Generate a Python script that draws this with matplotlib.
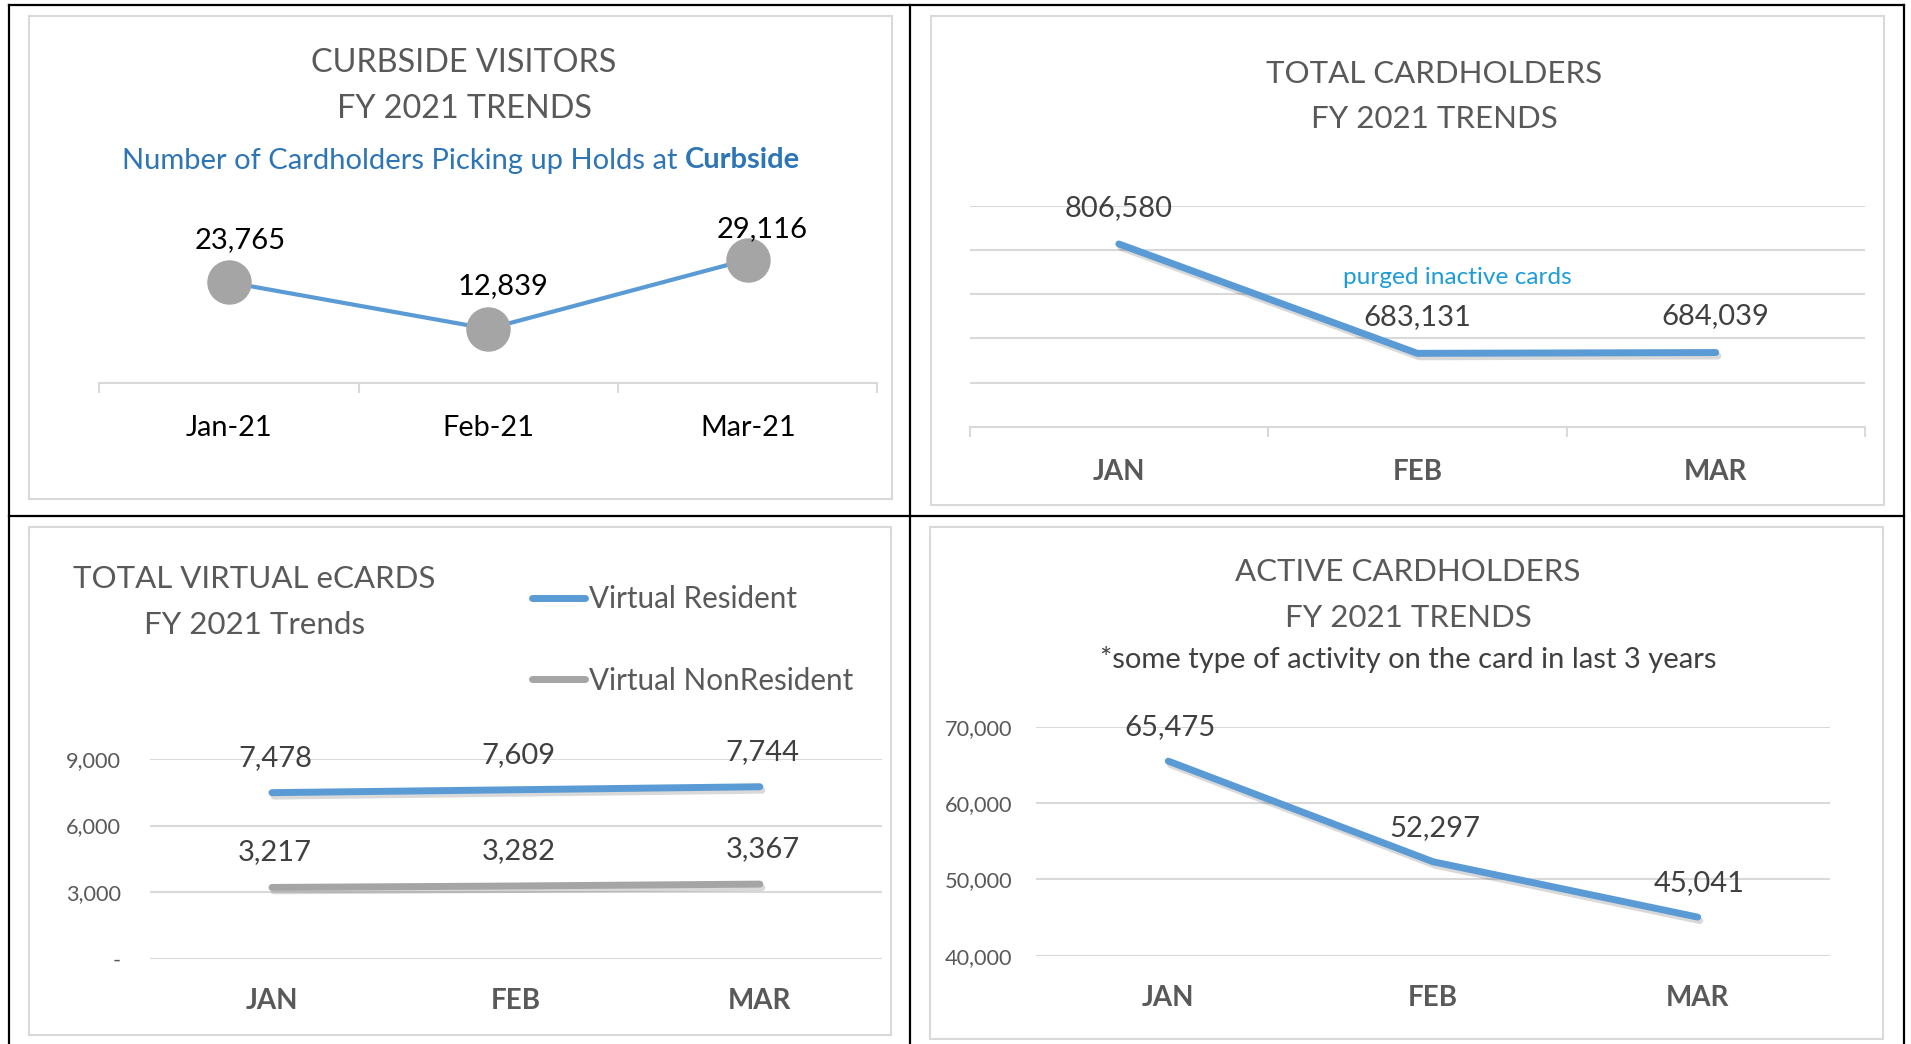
import matplotlib
matplotlib.use("Agg")
import matplotlib.pyplot as plt
import matplotlib.patheffects as pe
from matplotlib.lines import Line2D
from matplotlib.patches import Rectangle

plt.rcParams['font.family'] = ['Lato', 'DejaVu Sans']

# data
curb_months = ["Jan-21", "Feb-21", "Mar-21"]
curb_visitors = [23765, 12839, 29116]

months = ["JAN", "FEB", "MAR"]
total_cardholders = [806580, 683131, 684039]

virtual_resident = [7478, 7609, 7744]
virtual_nonresident = [3217, 3282, 3367]
virtual_ticks = [0, 3000, 6000, 9000]
virtual_ticklabels = ["-", "3,000", "6,000", "9,000"]

active_cardholders = [65475, 52297, 45041]
active_ticks = [40000, 50000, 60000, 70000]

W, H = 1911, 1044
BLUE = "#5B9BD5"
GREY = "#A5A5A5"
TXT = "#595959"
LBL = "#404040"
GRID = "#D9D9D9"

fig = plt.figure(figsize=(W / 100, H / 100), dpi=100)


# pixel box (top-left origin) -> figure fraction
def box(x0, y0, x1, y1):
    return [x0 / W, 1 - y1 / H, (x1 - x0) / W, (y1 - y0) / H]


def ftext(x, y, s, **kw):
    kw.setdefault("ha", "center")
    kw.setdefault("va", "center")
    return fig.text(x / W, 1 - y / H, s, **kw)


def shadow():
    return [pe.SimpleLineShadow(offset=(1.5, -2.5), shadow_color="k", alpha=0.15), pe.Normal()]


def style_axes(ax, bottom_spine=False):
    for s in ax.spines.values():
        s.set_visible(False)
    if bottom_spine:
        ax.spines["bottom"].set_visible(True)
        ax.spines["bottom"].set_color(GRID)
        ax.spines["bottom"].set_linewidth(1.5)
        ax.set_xticks([-0.5, 0.5, 1.5, 2.5], minor=True)
        ax.tick_params(axis="x", which="minor", length=7, width=1.5, color=GRID)
    ax.set_xlim(-0.5, 2.5)
    ax.set_xticks(range(3))
    ax.set_facecolor("none")


# chart frames and table lines
for x0, y0, x1, y1 in [(29, 16, 892, 499), (931, 16, 1884, 505), (29, 527, 891, 1035), (930, 527, 1883, 1039)]:
    fig.add_artist(Rectangle((x0 / W, 1 - y1 / H), (x1 - x0) / W, (y1 - y0) / H,
                             transform=fig.transFigure, fill=False, ec=GRID, lw=1.5))
for xs, ys in [((8.6, 8.6), (5, 1044)), ((910, 910), (5, 1044)), ((1904, 1904), (5, 1044)),
               ((8.6, 1904), (5, 5)), ((8.6, 1904), (516, 516))]:
    fig.add_artist(Line2D([x / W for x in xs], [1 - y / H for y in ys],
                          transform=fig.transFigure, color="black", lw=1.6))

# --- Curbside visitors
ax1 = fig.add_axes(box(99.2, 234.5, 877.5, 383.5))
style_axes(ax1, bottom_spine=True)
ax1.set_ylim(0, 35000)
ax1.set_yticks([])
ax1.plot(range(3), curb_visitors, color=BLUE, lw=3, zorder=2)
ax1.plot(range(3), curb_visitors, "o", ms=31, color=GREY, zorder=3)
for i, (v, off) in enumerate(zip(curb_visitors, [(11, 42), (15, 43), (14, 31)])):
    ax1.annotate(f"{v:,}", (i, v), xytext=off, textcoords="offset pixels",
                 ha="center", va="center", fontsize=21, color="black", zorder=4)
ax1.set_xticklabels(curb_months, fontsize=20.8, color="black")
ax1.tick_params(axis="x", which="major", length=0, pad=23)

ftext(464, 62.5, "CURBSIDE VISITORS", fontsize=23.3, color=TXT)
ftext(464, 109, "FY 2021 TRENDS", fontsize=23.3, color=TXT)
sub1 = ftext(0, 160.5, "Number of Cardholders Picking up Holds at ", fontsize=21, color="#2E75B6", ha="left")
sub2 = fig.text(0, 0, "Curbside", fontsize=21, color="#2E75B6", fontweight="bold", ha="left", va="center")
r = fig.canvas.get_renderer()
w1 = sub1.get_window_extent(r).width
w2 = sub2.get_window_extent(r).width
start = 461 - (w1 + w2) / 2
sub1.set_x(start / W)
sub2.set_position(((start + w1) / W, 1 - 160.5 / H))

# --- Total cardholders
ax2 = fig.add_axes(box(969.6, 205.5, 1865, 427))
style_axes(ax2, bottom_spine=True)
ax2.set_ylim(600000, 850000)
ax2.set_yticks(range(600000, 850001, 50000))
ax2.tick_params(axis="y", length=0, labelleft=False)
ax2.yaxis.grid(True, color=GRID, lw=1.5)
ax2.set_axisbelow(True)
ax2.plot(range(3), total_cardholders, color=BLUE, lw=5, solid_capstyle="round", path_effects=shadow())
for i, v in enumerate(total_cardholders):
    ax2.annotate(f"{v:,}", (i, v), xytext=(0, 36), textcoords="offset pixels",
                 ha="center", va="center", fontsize=21, color=LBL)
ax2.text(1.135, 769000, "purged inactive cards", ha="center", va="center", fontsize=17.6, color="#1C9CD8")
ax2.set_xticklabels(months, fontsize=20, fontweight="bold", color=TXT)
ax2.tick_params(axis="x", which="major", length=0, pad=23)

ftext(1434, 74, "TOTAL CARDHOLDERS", fontsize=22.5, color=TXT)
ftext(1434, 119, "FY 2021 TRENDS", fontsize=22.5, color=TXT)

# --- Total virtual eCards
ax3 = fig.add_axes(box(150, 758.8, 881.8, 959))
style_axes(ax3)
ax3.set_ylim(0, 9000)
ax3.set_yticks(virtual_ticks)
ax3.set_yticklabels(virtual_ticklabels, fontsize=15.7, color=TXT)
ax3.tick_params(axis="y", length=0, pad=21)
ax3.yaxis.grid(True, color=GRID, lw=1.5)
ax3.set_axisbelow(True)
ax3.plot(range(3), virtual_resident, color=BLUE, lw=5, solid_capstyle="round",
         path_effects=shadow(), label="Virtual Resident")
ax3.plot(range(3), virtual_nonresident, color=GREY, lw=5, solid_capstyle="round",
         path_effects=shadow(), label="Virtual NonResident")
for series in (virtual_resident, virtual_nonresident):
    for i, v in enumerate(series):
        ax3.annotate(f"{v:,}", (i, v), xytext=(3, 35), textcoords="offset pixels",
                     ha="center", va="center", fontsize=21, color=LBL)
ax3.set_xticklabels(months, fontsize=20, fontweight="bold", color=TXT)
ax3.tick_params(axis="x", length=0, pad=21)
leg = ax3.legend(loc="upper left", bbox_to_anchor=(531.5 / W, 1 - 585 / H), bbox_transform=fig.transFigure,
                 frameon=False, borderpad=0, borderaxespad=0, handlelength=1.8, handletextpad=0.13,
                 labelspacing=1.81, fontsize=21.3)
for t in leg.get_texts():
    t.set_color(TXT)
for h in leg.legend_handles:
    h.set_path_effects([])

ftext(254.5, 579, "TOTAL VIRTUAL eCARDS", fontsize=22.5, color=TXT)
ftext(254.5, 624.5, "FY 2021 Trends", fontsize=22.5, color=TXT)

# --- Active cardholders
ax4 = fig.add_axes(box(1036, 726.6, 1830, 955.6))
style_axes(ax4)
ax4.set_ylim(40000, 70000)
ax4.set_yticks(active_ticks)
ax4.set_yticklabels([f"{v:,}" for v in active_ticks], fontsize=15.7, color=TXT)
ax4.tick_params(axis="y", length=0, pad=17)
ax4.yaxis.grid(True, color=GRID, lw=1.5)
ax4.set_axisbelow(True)
ax4.plot(range(3), active_cardholders, color=BLUE, lw=5, solid_capstyle="round", path_effects=shadow())
for i, v in enumerate(active_cardholders):
    ax4.annotate(f"{v:,}", (i, v), xytext=(2, 34), textcoords="offset pixels",
                 ha="center", va="center", fontsize=21, color=LBL)
ax4.set_xticklabels(months, fontsize=20, fontweight="bold", color=TXT)
ax4.tick_params(axis="x", length=0, pad=21)

ftext(1408, 572, "ACTIVE CARDHOLDERS", fontsize=22.5, color=TXT)
ftext(1408, 618, "FY 2021 TRENDS", fontsize=22.5, color=TXT)
ftext(1408, 659.5, "*some type of activity on the card in last 3 years", fontsize=21, color=LBL)

fig.savefig("out.png", dpi=100, facecolor="white")
